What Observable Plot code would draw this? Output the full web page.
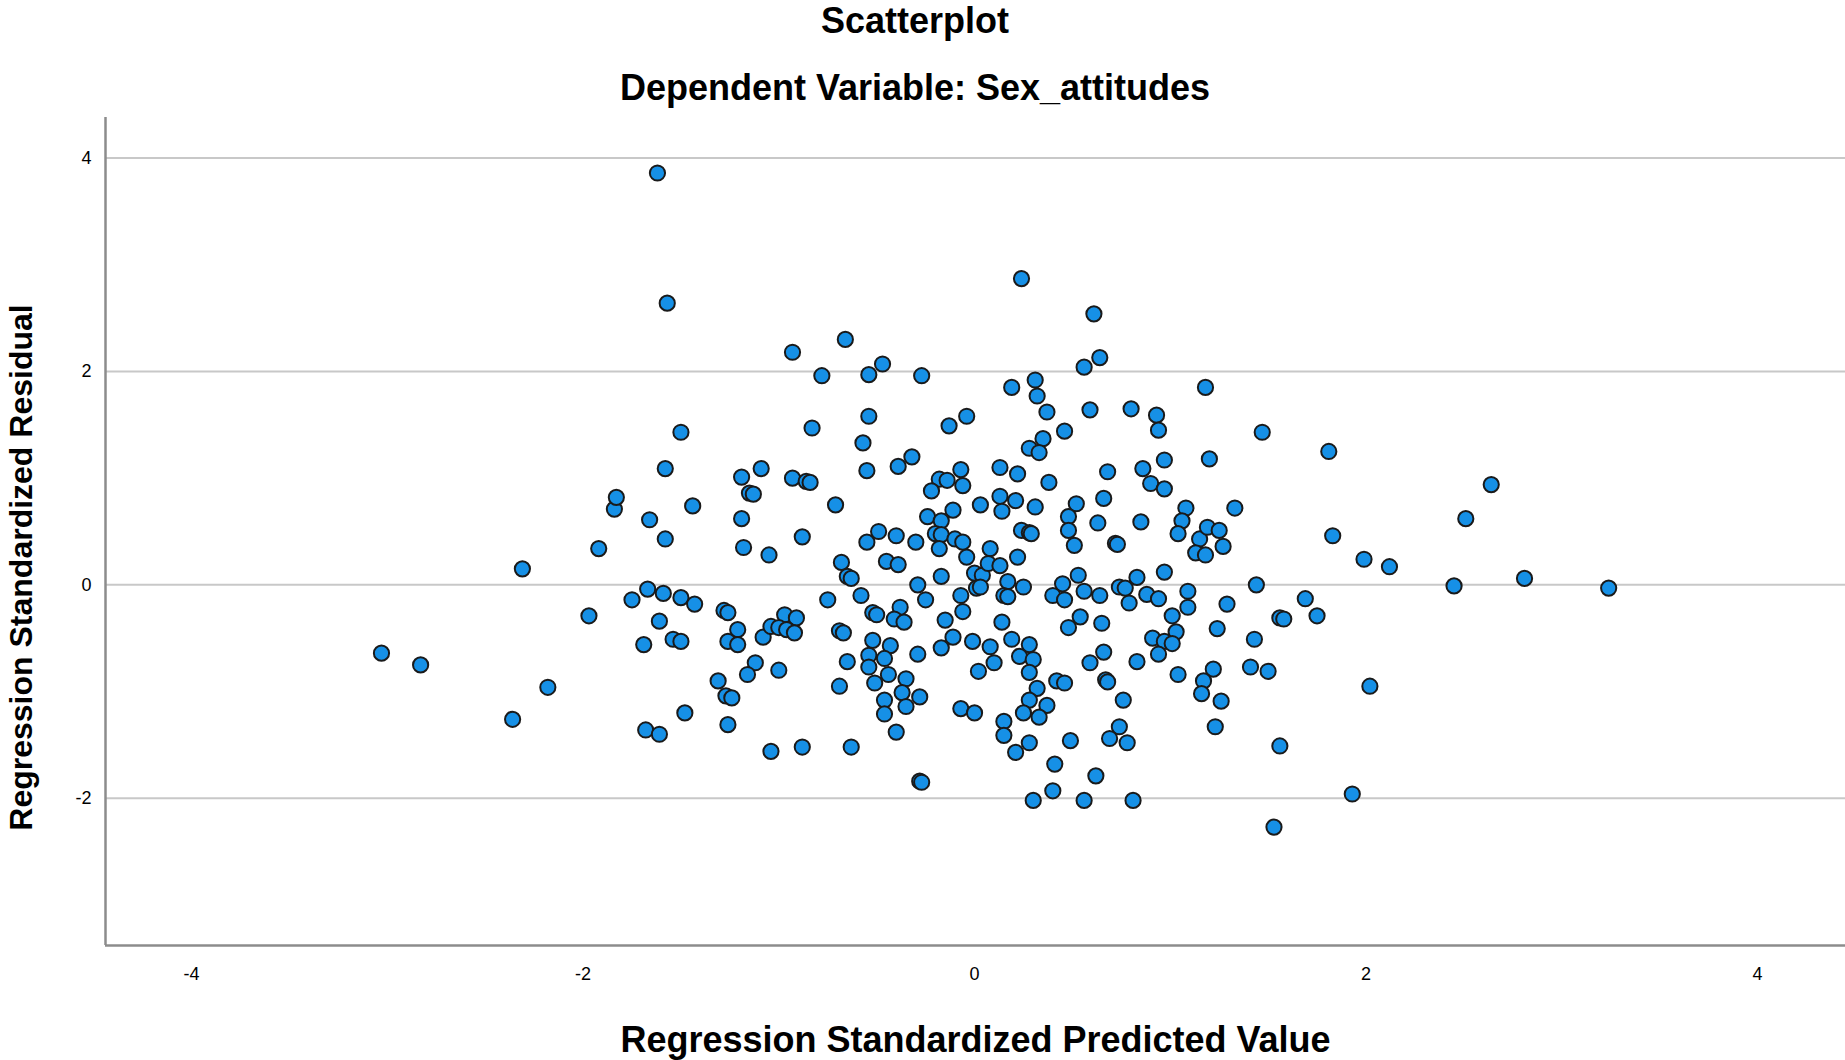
<!DOCTYPE html>
<html><head><meta charset="utf-8">
<script src="https://cdn.jsdelivr.net/npm/d3@7"></script>
<script src="https://cdn.jsdelivr.net/npm/@observablehq/plot@0.6"></script>
<style>
body{margin:0;background:#fff;font-family:"Liberation Sans",Arial,sans-serif;}
#head{position:relative;width:1845px;height:110px;}
.t{position:absolute;left:915px;transform:translateX(-50%);font-weight:bold;font-size:36px;line-height:1;white-space:nowrap;color:#000;}
</style></head><body>
<div id="head"><div class="t" style="top:3px">Scatterplot</div><div class="t" style="top:70px">Dependent Variable: Sex_attitudes</div></div>
<div id="chart"></div>
<script>
const xTitle = "Regression Standardized Predicted Value";
const yTitle = "Regression Standardized Residual";
const xTicks = [-4, -2, 0, 2, 4];
const yTicks = [-2, 0, 2, 4];
const xDomain = [-4.44, 4.45];
const yDomain = [-3.38, 4.38];

// Regression standardized predicted values
const predicted = [
-3.03,-2.83,-2.36,-2.31,-2.18,-1.97,-1.92,-1.84,-1.83,-1.75,-1.69,-1.67,-1.68,-1.66,-1.62,-1.61,-1.61,-1.59,-1.58,-1.58,-1.57,-1.54,-1.50,-1.50,-1.50,-1.48,-1.44,-1.43,
-0.93,-0.66,-0.78,-0.54,-0.47,-0.27,-0.83,-0.54,-0.57,-0.13,-0.04,-1.19,-1.09,-0.93,-0.86,-0.84,-0.55,-0.39,-0.32,-0.07,-0.18,-0.14,-0.06,-0.22,0.03,-0.11,-0.24,-0.17,-1.15,-1.13,-0.71,-1.19,
0.24,0.61,0.64,0.56,0.19,0.31,0.32,0.37,0.59,0.80,0.93,0.94,1.18,1.47,0.46,0.35,0.28,0.33,0.13,0.22,0.38,0.68,0.86,0.97,1.20,0.90,0.97,0.13,0.21,0.14,0.31,0.52,0.48,0.66,0.63,0.85,1.08,1.06,1.33,
1.81,2.64,2.51,1.83,1.99,2.12,2.45,2.81,3.24,1.69,1.75,2.02,1.93,
-1.18,-1.05,-0.88,-0.55,-0.49,-0.40,-0.30,-0.20,-0.17,-0.18,-0.10,-0.06,-0.04,-0.68,-0.65,-0.63,-0.45,-0.39,-0.29,-0.17,0.00,0.04,0.01,0.03,
-1.28,-1.26,-1.21,-1.26,-1.21,-1.08,-1.04,-0.97,-0.91,-1.00,-0.96,-0.92,-1.12,-1.16,-1.00,-1.31,-1.27,-1.24,-1.26,-1.04,-0.88,-0.63,-0.28,-0.27,
-0.75,-0.58,-0.69,-0.67,-0.52,-0.50,-0.38,-0.41,-0.36,-0.25,-0.07,-0.06,-0.15,-0.52,-0.43,-0.54,-0.46,-0.54,-0.44,-0.51,-0.35,-0.37,-0.28,-0.46,-0.35,-0.46,-0.40,-0.65,-0.69,-0.29,-0.17,-0.11,-0.01,0.02,-0.07,0.00,
0.24,0.28,0.29,0.48,0.51,0.72,0.73,1.04,1.15,1.19,1.25,1.13,1.18,1.27,0.08,0.22,0.07,0.13,0.17,0.15,0.17,0.25,0.45,0.53,0.40,0.46,0.56,0.64,0.74,0.77,0.83,0.97,0.79,0.88,0.94,1.09,1.09,1.01,1.03,1.29,1.44,1.56,1.58,1.24,1.43,
0.14,0.48,0.54,0.65,0.91,0.97,1.01,0.94,0.19,0.28,0.08,0.23,0.30,0.10,0.28,0.59,0.66,0.83,0.42,0.46,0.67,0.68,1.04,1.22,1.17,1.16,1.26,1.41,1.50,
0.32,0.28,0.37,0.25,0.33,0.76,0.15,0.15,0.28,0.21,0.49,0.74,0.69,0.78,1.23,1.56,0.41,0.62,0.40,0.30,0.56,0.81,1.53
];

// Regression standardized residuals
const residual = [
-0.64,-0.75,-1.26,0.15,-0.96,-0.29,0.34,0.71,0.82,-0.14,-0.56,-0.04,-1.36,0.61,3.86,-1.40,-0.34,-0.08,0.43,1.09,2.64,-0.51,1.43,-0.12,-0.53,-1.20,0.74,-0.18,
2.18,2.30,1.96,1.97,2.07,1.96,1.47,1.58,1.33,1.49,1.58,1.01,1.09,1.00,0.97,0.96,1.07,1.11,1.20,1.08,0.99,0.98,0.93,0.88,0.75,0.70,0.64,0.60,0.86,0.85,0.75,0.62,
2.87,2.54,2.13,2.04,1.85,1.92,1.77,1.62,1.64,1.65,1.59,1.45,1.85,1.43,1.44,1.37,1.28,1.24,1.10,1.04,0.96,1.06,1.09,1.17,1.18,0.95,0.90,0.83,0.79,0.69,0.73,0.76,0.64,0.81,0.58,0.59,0.72,0.60,0.72,
1.25,0.94,0.62,0.46,0.24,0.17,-0.01,0.06,-0.03,-0.13,-0.29,-0.95,-1.96,
0.35,0.28,0.45,0.40,0.50,0.46,0.40,0.48,0.47,0.34,0.43,0.40,0.26,0.21,0.08,0.06,0.22,0.19,0.00,0.08,0.11,0.09,-0.03,-0.02,
-0.24,-0.26,-0.42,-0.53,-0.56,-0.49,-0.39,-0.28,-0.31,-0.40,-0.42,-0.45,-0.73,-0.84,-0.80,-0.90,-1.04,-1.06,-1.31,-1.56,-1.52,-1.52,-1.84,-1.85,
-0.14,-0.10,-0.43,-0.45,-0.26,-0.28,-0.21,-0.32,-0.35,-0.14,-0.10,-0.25,-0.33,-0.52,-0.57,-0.66,-0.69,-0.77,-0.84,-0.92,-0.88,-1.01,-1.05,-1.08,-1.14,-1.21,-1.38,-0.72,-0.95,-0.65,-0.59,-0.49,-0.53,-0.81,-1.16,-1.20,
0.51,0.49,0.48,0.51,0.37,0.39,0.38,0.48,0.43,0.54,0.51,0.30,0.28,0.36,0.34,0.26,0.20,0.18,0.03,-0.10,-0.11,-0.02,0.01,0.09,-0.10,-0.14,-0.06,-0.10,-0.02,-0.03,0.07,0.12,-0.17,-0.09,-0.13,-0.06,-0.21,-0.29,-0.44,-0.18,0.00,-0.31,-0.32,-0.41,-0.51,
-0.35,-0.40,-0.30,-0.36,-0.50,-0.53,-0.55,-0.65,-0.51,-0.56,-0.58,-0.67,-0.70,-0.73,-0.82,-0.73,-0.63,-0.72,-0.90,-0.92,-0.89,-0.91,-0.84,-0.79,-0.90,-1.02,-1.09,-0.77,-0.81,
-0.97,-1.08,-1.13,-1.20,-1.24,-1.08,-1.28,-1.41,-1.48,-1.57,-1.46,-1.33,-1.44,-1.48,-1.33,-1.51,-1.68,-1.79,-1.93,-2.02,-2.02,-2.02,-2.27
];

const n = Math.min(predicted.length, residual.length);
const points = d3.range(n).map(i => ({x: predicted[i], y: residual[i]}));

const chart = Plot.plot({
  width: 1845,
  height: 950,
  marginLeft: 105,
  marginRight: 0,
  marginTop: 7,
  marginBottom: 115,
  style: {fontFamily: "Liberation Sans, Arial, sans-serif", fontSize: "18px", color: "#000", background: "#fff", overflow: "visible"},
  x: {domain: xDomain, ticks: xTicks, tickSize: 0, tickPadding: 22, tickFormat: d => String(d), label: null},
  y: {domain: yDomain, ticks: yTicks, tickSize: 0, tickPadding: 14, tickFormat: d => String(d), label: null},
  marks: [
    Plot.ruleY(yTicks, {stroke: "#c8c8c8", strokeWidth: 2}),
    Plot.ruleX([xDomain[0]], {stroke: "#8c8c8c", strokeWidth: 2.5}),
    Plot.ruleY([yDomain[0]], {stroke: "#8c8c8c", strokeWidth: 2.5}),
    Plot.dot(points, {x: "x", y: "y", r: 7.6, fill: "#1690e6", stroke: "#1a1a1a", strokeWidth: 2}),
    Plot.text([xTitle], {text: d => d, frameAnchor: "bottom", dy: 95, fontSize: 36, fontWeight: "bold", lineAnchor: "middle", fill: "#000"}),
    Plot.text([yTitle], {text: d => d, frameAnchor: "left", textAnchor: "middle", dx: -84, dy: 36, rotate: -90, fontSize: 32, fontWeight: "bold", lineAnchor: "middle", fill: "#000"})
  ]
});
document.getElementById("chart").appendChild(chart);
</script>
</body></html>
